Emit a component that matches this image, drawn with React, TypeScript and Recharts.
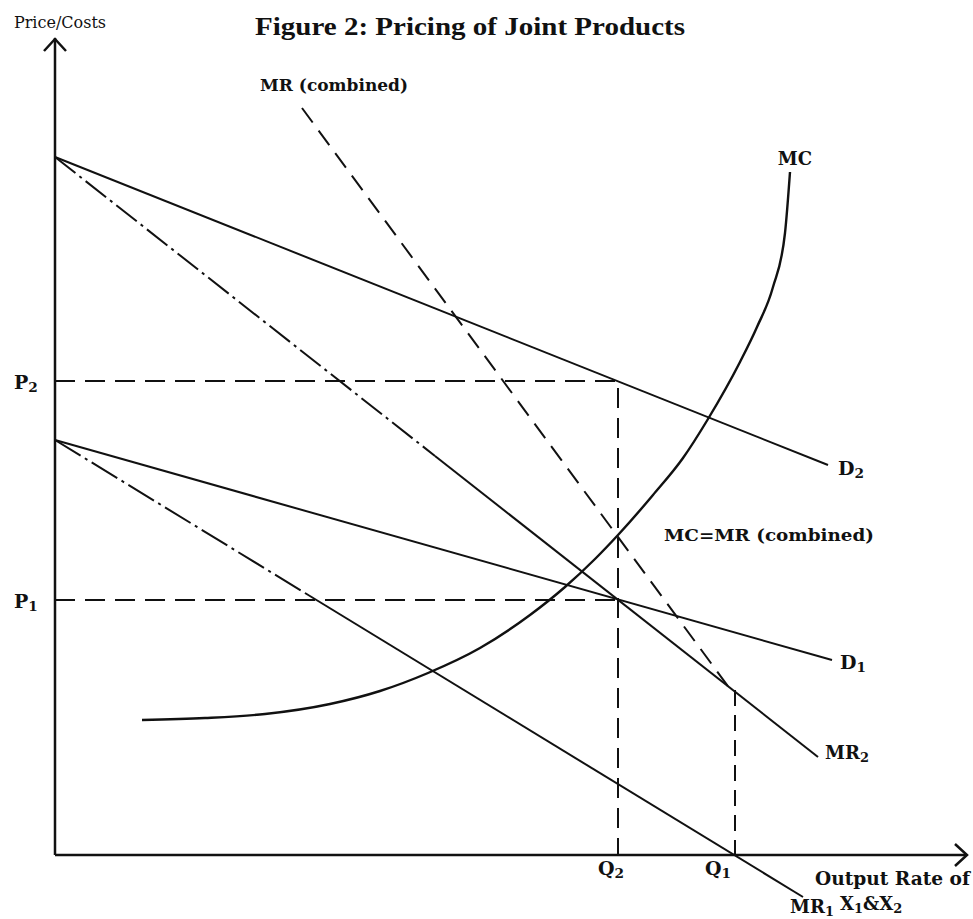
import React from "react";
import { LineChart, Line, XAxis, YAxis, ReferenceDot } from "recharts";

// Data space: x = output rate, y = price/costs (arbitrary units)
const D2 = [
  { x: 0, y: 698 },
  { x: 773, y: 390 },
];
const MR2_UPPER = [
  { x: 0, y: 698 },
  { x: 380, y: 399 },
];
const MR2_LOWER = [
  { x: 380, y: 399 },
  { x: 763, y: 98 },
];
const D1 = [
  { x: 0, y: 415 },
  { x: 777, y: 195 },
];
const MR1_UPPER = [
  { x: 0, y: 415 },
  { x: 250, y: 262 },
];
const MR1_LOWER = [
  { x: 250, y: 262 },
  { x: 748, y: -42 },
];
const MR_COMBINED = [
  { x: 247, y: 747 },
  { x: 678, y: 162 },
];
const MC = [
  { x: 87, y: 135 },
  { x: 150, y: 137 },
  { x: 210, y: 141 },
  { x: 275, y: 151 },
  { x: 325, y: 164 },
  { x: 373, y: 182 },
  { x: 425, y: 207 },
  { x: 475, y: 240 },
  { x: 510, y: 268 },
  { x: 540, y: 296 },
  { x: 563, y: 320 },
  { x: 598, y: 360 },
  { x: 628, y: 397 },
  { x: 653, y: 436 },
  { x: 685, y: 493 },
  { x: 702, y: 528 },
  { x: 718, y: 568 },
  { x: 730, y: 622 },
  { x: 735, y: 683 },
];
const P2_GUIDE = [
  { x: 0, y: 474 },
  { x: 563, y: 474 },
  { x: 563, y: 0 },
];
const P1_GUIDE = [
  { x: 0, y: 255 },
  { x: 563, y: 255 },
];
const Q1_GUIDE = [
  { x: 680, y: 165 },
  { x: 680, y: 0 },
];
const Y_AXIS = [
  { x: 0, y: 0 },
  { x: 0, y: 817 },
];
const X_AXIS = [
  { x: 0, y: 0 },
  { x: 912, y: 0 },
];
const Y_ARROW = [
  { x: -11, y: 804 },
  { x: 0, y: 816 },
  { x: 11, y: 804 },
];
const X_ARROW = [
  { x: 900, y: 11 },
  { x: 912, y: 0 },
  { x: 900, y: -11 },
];

// "_" marks a one-character subscript
const LABELS = [
  { text: "Figure 2:  Pricing of Joint Products", x: 415, y: 829, anchor: "middle", size: 26, font: "title", fit: 430 },
  { text: "Price/Costs", x: 5, y: 833, anchor: "middle", size: 16, weight: "normal" },
  { text: "MR (combined)", x: 279, y: 770, anchor: "middle", size: 17 },
  { text: "MC", x: 740, y: 697, anchor: "middle", size: 18 },
  { text: "MC=MR (combined)", x: 714, y: 320, anchor: "middle", size: 17, fit: 210 },
  { text: "D_2", x: 783, y: 387, anchor: "start", size: 19 },
  { text: "D_1", x: 785, y: 193, anchor: "start", size: 19 },
  { text: "MR_2", x: 770, y: 103, anchor: "start", size: 18 },
  { text: "MR_1", x: 735, y: -51, anchor: "start", size: 18 },
  { text: "Q_2", x: 543, y: -13, anchor: "start", size: 19 },
  { text: "Q_1", x: 650, y: -13, anchor: "start", size: 19 },
  { text: "P_2", x: -41, y: 473, anchor: "start", size: 19 },
  { text: "P_1", x: -41, y: 254, anchor: "start", size: 19 },
  { text: "Output  Rate  of", x: 760, y: -23, anchor: "start", size: 18, fit: 155 },
  { text: "X_1&X_2", x: 785, y: -48, anchor: "start", size: 18 },
];

const TITLE_FONT = '"Liberation Serif", "DejaVu Serif", serif';
const LABEL_FONT = '"DejaVu Serif", "Liberation Serif", serif';

function renderParts(text: string, size: number) {
  const parts: React.ReactNode[] = [];
  const re = /_(.)/g;
  const drop = size * 0.25;
  let last = 0;
  let m: RegExpExecArray | null;
  let k = 0;
  let shifted = false;
  while ((m = re.exec(text)) !== null) {
    if (m.index > last) {
      parts.push(
        <tspan key={k++} dy={shifted ? -drop : 0}>
          {text.slice(last, m.index)}
        </tspan>
      );
      shifted = false;
    }
    parts.push(
      <tspan key={k++} dy={drop} fontSize={size * 0.72}>
        {m[1]}
      </tspan>
    );
    shifted = true;
    last = m.index + m[0].length;
  }
  if (last < text.length) {
    parts.push(
      <tspan key={k++} dy={shifted ? -drop : 0}>
        {text.slice(last)}
      </tspan>
    );
  }
  return parts;
}

const LabelShape = (label: any) => (props: any) => (
  <text
    x={props.cx}
    y={props.cy}
    textAnchor={label.anchor}
    dominantBaseline="central"
    fontFamily={label.font === "title" ? TITLE_FONT : LABEL_FONT}
    fontSize={label.size}
    fontWeight={label.weight ?? "bold"}
    textLength={label.fit}
    lengthAdjust={label.fit ? "spacingAndGlyphs" : undefined}
    fill="#111"
  >
    {renderParts(label.text, label.size)}
  </text>
);

const INK = "#111";

type Series = {
  key: string;
  data: { x: number; y: number }[];
  dash?: string;
  width?: number;
  curve?: "linear" | "monotone";
};

const SERIES: Series[] = [
  { key: "yaxis", data: Y_AXIS, width: 2.5 },
  { key: "xaxis", data: X_AXIS, width: 2.5 },
  { key: "yarrow", data: Y_ARROW, width: 2.5 },
  { key: "xarrow", data: X_ARROW, width: 2.5 },
  { key: "p2", data: P2_GUIDE, dash: "20 10" },
  { key: "p1", data: P1_GUIDE, dash: "20 10" },
  { key: "q1", data: Q1_GUIDE, dash: "16 9" },
  { key: "d2", data: D2 },
  { key: "mr2u", data: MR2_UPPER, dash: "26 5 3 5" },
  { key: "mr2l", data: MR2_LOWER },
  { key: "d1", data: D1 },
  { key: "mr1u", data: MR1_UPPER, dash: "30 5 3 5" },
  { key: "mr1l", data: MR1_LOWER },
  { key: "mrc", data: MR_COMBINED, dash: "18 10" },
  { key: "mc", data: MC, curve: "monotone", width: 2.4 },
];

export default function App() {
  return (
    <div style={{ position: "absolute", left: 0, top: 0, background: "#fff" }}>
      <LineChart width={973} height={919} margin={{ top: 0, right: 0, bottom: 0, left: 0 }}>
        <XAxis type="number" dataKey="x" domain={[-55, 918]} hide allowDataOverflow />
        <YAxis type="number" dataKey="y" domain={[-64, 855]} hide allowDataOverflow />
        {SERIES.map((s) => (
          <Line
            key={s.key}
            data={s.data}
            dataKey="y"
            type={s.curve ?? "linear"}
            stroke={INK}
            strokeWidth={s.width ?? 2}
            strokeDasharray={s.dash}
            dot={false}
            activeDot={false}
            isAnimationActive={false}
            strokeLinecap="butt"
          />
        ))}
        {LABELS.map((l, i) => (
          <ReferenceDot key={i} x={l.x} y={l.y} r={0} shape={LabelShape(l)} />
        ))}
      </LineChart>
    </div>
  );
}
